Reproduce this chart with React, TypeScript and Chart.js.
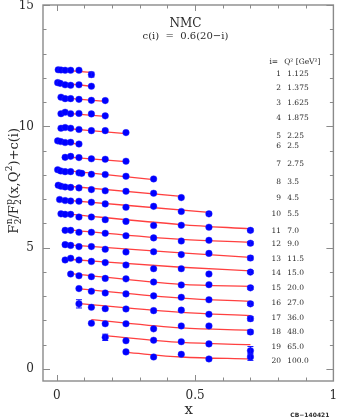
import React, { useEffect, useRef } from 'react';
import { Chart, registerables } from 'chart.js';

Chart.register(...registerables);

// ---- Data ----
const seriesIds = ['1','2','3','4','5','6','7','8','9','10','11','12','13','14','15','16','17','18','19','20'];
const q2Labels = ['1.125','1.375','1.625','1.875','2.25','2.5','2.75','3.5','4.5','5.5','7.0','9.0','11.5','15.0','20.0','27.0','36.0','48.0','65.0','100.0'];

const xs01 = [0.005, 0.015, 0.03, 0.05, 0.08, 0.125];
const ys01 = [12.33, 12.32, 12.31, 12.31, 12.31, 12.13];
const xs02 = [0.003, 0.012, 0.03, 0.05, 0.08, 0.125];
const ys02 = [11.80, 11.77, 11.71, 11.69, 11.71, 11.65];
const xs03 = [0.015, 0.03, 0.05, 0.08, 0.125, 0.175];
const ys03 = [11.20, 11.14, 11.14, 11.11, 11.07, 11.06];
const xs04 = [0.015, 0.03, 0.05, 0.08, 0.125, 0.175];
const ys04 = [10.52, 10.58, 10.52, 10.53, 10.51, 10.43];
const xs05 = [0.015, 0.03, 0.05, 0.08, 0.125, 0.175, 0.25];
const ys05 = [9.92, 9.95, 9.92, 9.87, 9.82, 9.82, 9.74];
const xs06 = [0.003, 0.014, 0.03, 0.05, 0.08];
const ys06 = [9.40, 9.37, 9.33, 9.34, 9.27];
const xs07 = [0.03, 0.05, 0.08, 0.125, 0.175, 0.25];
const ys07 = [8.72, 8.76, 8.71, 8.66, 8.64, 8.56];
const xs08 = [0.003, 0.014, 0.03, 0.05, 0.08, 0.09, 0.125, 0.175, 0.25, 0.35];
const ys08 = [8.21, 8.16, 8.13, 8.13, 8.08, 8.06, 8.02, 8.01, 7.94, 7.83];
const xs09 = [0.005, 0.015, 0.03, 0.05, 0.08, 0.125, 0.175, 0.25, 0.35, 0.45];
const ys09 = [7.57, 7.53, 7.50, 7.48, 7.46, 7.39, 7.34, 7.32, 7.24, 7.06];
const xs10 = [0.01, 0.03, 0.05, 0.08, 0.125, 0.175, 0.25, 0.35, 0.45, 0.55];
const ys10 = [6.98, 6.94, 6.92, 6.91, 6.87, 6.80, 6.66, 6.70, 6.49, 6.39];
const xs11 = [0.015, 0.03, 0.05, 0.08, 0.125, 0.175, 0.25, 0.35, 0.45, 0.55, 0.70];
const ys11 = [6.39, 6.37, 6.37, 6.26, 6.26, 6.15, 6.08, 5.91, 5.92, 5.84, 5.71];
const xs12 = [0.03, 0.05, 0.08, 0.125, 0.175, 0.25, 0.35, 0.45, 0.55, 0.70];
const ys12 = [5.71, 5.71, 5.63, 5.63, 5.59, 5.49, 5.40, 5.27, 5.30, 5.18];
const xs13 = [0.03, 0.05, 0.08, 0.125, 0.175, 0.25, 0.35, 0.45, 0.55, 0.70];
const ys13 = [5.12, 5.09, 5.04, 5.04, 4.93, 4.82, 4.83, 4.71, 4.76, 4.57];
const xs14 = [0.03, 0.05, 0.08, 0.125, 0.175, 0.25, 0.35, 0.45, 0.55, 0.70];
const ys14 = [4.49, 4.56, 4.49, 4.43, 4.38, 4.28, 4.13, 4.13, 3.91, 3.99];
const xs15 = [0.05, 0.08, 0.125, 0.175, 0.25, 0.35, 0.45, 0.55, 0.70];
const ys15 = [3.91, 3.84, 3.80, 3.73, 3.71, 3.58, 3.46, 3.47, 3.34];
const xs16 = [0.08, 0.125, 0.175, 0.25, 0.35, 0.45, 0.55, 0.70];
const ys16 = [3.31, 3.20, 3.13, 3.09, 3.01, 2.95, 2.85, 2.68];
const xs17 = [0.08, 0.125, 0.175, 0.25, 0.35, 0.45, 0.55, 0.70];
const ys17 = [2.68, 2.54, 2.48, 2.47, 2.40, 2.42, 2.25, 2.07];
const xs18 = [0.125, 0.175, 0.25, 0.35, 0.45, 0.55, 0.70];
const ys18 = [1.88, 1.86, 1.86, 1.65, 1.77, 1.77, 1.52];
const xs19 = [0.175, 0.25, 0.35, 0.45, 0.55, 0.70];
const ys19 = [1.30, 1.16, 1.18, 1.12, 1.03, 0.75];
const xs20 = [0.25, 0.35, 0.45, 0.55, 0.70];
const ys20 = [0.70, 0.49, 0.60, 0.41, 0.49];

// fit curves (red lines)
const fitX01 = [0.005, 0.125];        const fitY01 = [12.33, 12.22];
const fitX02 = [0.003, 0.125];        const fitY02 = [11.80, 11.65];
const fitX03 = [0.015, 0.175];        const fitY03 = [11.18, 11.03];
const fitX04 = [0.015, 0.175];        const fitY04 = [10.55, 10.41];
const fitX05 = [0.015, 0.25];         const fitY05 = [9.93, 9.70];
const fitX06 = [0.003, 0.08];         const fitY06 = [9.41, 9.25];
const fitX07 = [0.03, 0.25];          const fitY07 = [8.74, 8.54];
const fitX08 = [0.003, 0.35];         const fitY08 = [8.21, 7.80];
const fitX09 = [0.005, 0.45];         const fitY09 = [7.57, 7.11];
const fitX10 = [0.01, 0.55];          const fitY10 = [6.98, 6.45];
const fitX11 = [0.015, 0.45, 0.70];   const fitY11 = [6.41, 5.95, 5.77];
const fitX12 = [0.03, 0.45, 0.70];    const fitY12 = [5.74, 5.34, 5.22];
const fitX13 = [0.03, 0.45, 0.70];    const fitY13 = [5.12, 4.78, 4.60];
const fitX14 = [0.03, 0.45, 0.70];    const fitY14 = [4.53, 4.19, 4.04];
const fitX15 = [0.05, 0.45, 0.70];    const fitY15 = [3.93, 3.48, 3.40];
const fitX16 = [0.08, 0.45, 0.70];    const fitY16 = [3.30, 2.92, 2.78];
const fitX17 = [0.08, 0.45, 0.70];    const fitY17 = [2.69, 2.33, 2.19];
const fitX18 = [0.125, 0.45, 0.70];   const fitY18 = [2.03, 1.69, 1.59];
const fitX19 = [0.175, 0.45, 0.70];   const fitY19 = [1.37, 1.09, 1.00];
const fitX20 = [0.25, 0.45, 0.70];    const fitY20 = [0.68, 0.49, 0.41];

// visible error bars: [series number, point index, half-width]
const errorBars: number[][] = [
  [1, 5, 0.10], [10, 9, 0.06], [11, 10, 0.06], [12, 9, 0.07], [13, 9, 0.08],
  [14, 9, 0.06], [15, 8, 0.06], [16, 7, 0.07], [17, 0, 0.17], [17, 7, 0.09],
  [18, 6, 0.08], [19, 0, 0.13], [19, 5, 0.17], [20, 4, 0.14],
];

const xMajorTicks = [0, 0.5, 1];
const xMinorTicks = [0.1, 0.2, 0.3, 0.4, 0.6, 0.7, 0.8, 0.9];
const yMajorTicks = [0, 5, 10, 15];
const yMinorTicks = [1, 2, 3, 4, 6, 7, 8, 9, 11, 12, 13, 14];
const xTickLabels = ['0', '0.5', '1'];
const yTickLabels = ['0', '5', '10', '15'];

const seriesX = [xs01, xs02, xs03, xs04, xs05, xs06, xs07, xs08, xs09, xs10, xs11, xs12, xs13, xs14, xs15, xs16, xs17, xs18, xs19, xs20];
const seriesY = [ys01, ys02, ys03, ys04, ys05, ys06, ys07, ys08, ys09, ys10, ys11, ys12, ys13, ys14, ys15, ys16, ys17, ys18, ys19, ys20];
const fitsX = [fitX01, fitX02, fitX03, fitX04, fitX05, fitX06, fitX07, fitX08, fitX09, fitX10, fitX11, fitX12, fitX13, fitX14, fitX15, fitX16, fitX17, fitX18, fitX19, fitX20];
const fitsY = [fitY01, fitY02, fitY03, fitY04, fitY05, fitY06, fitY07, fitY08, fitY09, fitY10, fitY11, fitY12, fitY13, fitY14, fitY15, fitY16, fitY17, fitY18, fitY19, fitY20];

const SERIF = '"DejaVu Serif", serif';
const FRAME = '#8a8a8a';
const TEXT = '#2a2a2a';

function drawYTitle(ctx: CanvasRenderingContext2D, cx: number, cy: number) {
  const big = `13px ${SERIF}`;
  const small = `9px ${SERIF}`;
  const segs = [
    { t: 'F', sup: 'n', sub: '2' },
    { t: '/' },
    { t: 'F', sup: 'p', sub: '2' },
    { t: '(x,Q', sup: '2' },
    { t: ')+c(i)' },
  ] as { t: string; sup?: string; sub?: string }[];
  const widths = segs.map((s) => {
    ctx.font = big;
    const w = ctx.measureText(s.t).width;
    ctx.font = small;
    const ws = Math.max(s.sup ? ctx.measureText(s.sup).width : 0, s.sub ? ctx.measureText(s.sub).width : 0);
    return w + ws + (ws ? 0.5 : 0);
  });
  const total = widths.reduce((a, b) => a + b, 0);
  ctx.save();
  ctx.translate(cx, cy);
  ctx.rotate(-Math.PI / 2);
  ctx.fillStyle = TEXT;
  ctx.textBaseline = 'alphabetic';
  ctx.textAlign = 'left';
  let x = -total / 2;
  const base = 4.5;
  segs.forEach((s, i) => {
    ctx.font = big;
    ctx.fillText(s.t, x, base);
    const w = ctx.measureText(s.t).width;
    ctx.font = small;
    if (s.sup) ctx.fillText(s.sup, x + w + 0.5, base - 6);
    if (s.sub) ctx.fillText(s.sub, x + w + 0.5, base + 3);
    x += widths[i];
  });
  ctx.restore();
}

const decorPlugin = {
  id: 'decor',
  afterDatasetsDraw(chart: any) {
    const ctx: CanvasRenderingContext2D = chart.ctx;
    const xs = chart.scales.x;
    const ys = chart.scales.y;
    const a = chart.chartArea;

    // error bars
    ctx.save();
    ctx.strokeStyle = '#1010ff';
    ctx.lineWidth = 1;
    errorBars.forEach(([s, idx, e]) => {
      const px = xs.getPixelForValue(seriesX[s - 1][idx]);
      const v = seriesY[s - 1][idx];
      const top = ys.getPixelForValue(v + e);
      const bot = ys.getPixelForValue(v - e);
      ctx.beginPath();
      ctx.moveTo(px, top); ctx.lineTo(px, bot);
      ctx.moveTo(px - 3, top); ctx.lineTo(px + 3, top);
      ctx.moveTo(px - 3, bot); ctx.lineTo(px + 3, bot);
      ctx.stroke();
    });
    ctx.restore();
  },
  afterDraw(chart: any) {
    const ctx: CanvasRenderingContext2D = chart.ctx;
    const xs = chart.scales.x;
    const ys = chart.scales.y;
    const a = chart.chartArea;
    ctx.save();
    // frame
    ctx.strokeStyle = FRAME;
    ctx.lineWidth = 1.4;
    ctx.strokeRect(a.left, a.top, a.right - a.left, a.bottom - a.top);
    ctx.lineWidth = 1;
    ctx.beginPath();
    const xt = (v: number, len: number) => {
      const p = Math.round(xs.getPixelForValue(v)) + 0.5;
      ctx.moveTo(p, a.bottom); ctx.lineTo(p, a.bottom - len);
      ctx.moveTo(p, a.top); ctx.lineTo(p, a.top + len);
    };
    const yt = (v: number, len: number) => {
      const p = Math.round(ys.getPixelForValue(v)) + 0.5;
      ctx.moveTo(a.left, p); ctx.lineTo(a.left + len, p);
      ctx.moveTo(a.right, p); ctx.lineTo(a.right - len, p);
    };
    xMajorTicks.forEach((v) => xt(v, 6));
    xMinorTicks.forEach((v) => xt(v, 3.5));
    yMajorTicks.forEach((v) => yt(v, 7));
    yMinorTicks.forEach((v) => yt(v, 3.5));
    ctx.stroke();

    // tick labels
    ctx.fillStyle = TEXT;
    ctx.font = `12px ${SERIF}`;
    ctx.textBaseline = 'middle';
    ctx.textAlign = 'center';
    xMajorTicks.forEach((v, i) => ctx.fillText(xTickLabels[i], xs.getPixelForValue(v), a.bottom + 14.5));
    ctx.textAlign = 'right';
    yMajorTicks.forEach((v, i) => ctx.fillText(yTickLabels[i], a.left - 9, ys.getPixelForValue(v) + 0.5));

    // x title
    ctx.textAlign = 'center';
    ctx.font = `15px ${SERIF}`;
    ctx.fillText('x', xs.getPixelForValue(0.477), a.bottom + 29);

    // y title
    drawYTitle(ctx, 13.5, ys.getPixelForValue(7.75));

    // annotations
    ctx.font = `12px ${SERIF}`;
    ctx.textAlign = 'center';
    ctx.fillText('NMC', xs.getPixelForValue(0.465), ys.getPixelForValue(14.22));
    ctx.font = `10px ${SERIF}`;
    ctx.fillText('c(i)  =  0.6(20\u2212i)', xs.getPixelForValue(0.465), ys.getPixelForValue(13.72));

    // legend table
    ctx.font = `7.5px ${SERIF}`;
    const xi = xs.getPixelForValue(0.811);
    const xq = xs.getPixelForValue(0.833);
    const yHead = ys.getPixelForValue(12.63);
    ctx.textAlign = 'right';
    ctx.fillText('i=', xi - 3, yHead);
    ctx.textAlign = 'left';
    ctx.fillText('Q\u00B2 [GeV\u00B2]', xq - 3, yHead);
    seriesIds.forEach((id, k) => {
      const fy = fitsY[k];
      const py = ys.getPixelForValue(fy[fy.length - 1]) + 2;
      ctx.textAlign = 'right';
      ctx.fillText(id, xi, py);
      ctx.textAlign = 'left';
      ctx.fillText(q2Labels[k], xq, py);
    });

    // catalogue tag
    ctx.font = `bold 6px "DejaVu Sans", sans-serif`;
    ctx.textAlign = 'center';
    ctx.fillText('CB\u2212140421', xs.getPixelForValue(0.915), a.bottom + 34);
    ctx.restore();
  },
};

export default function App() {
  const ref = useRef<HTMLCanvasElement>(null);
  useEffect(() => {
    document.body.style.margin = '0';
    const fitSets = fitsX.map((fx, k) => ({
      type: 'scatter' as const,
      label: `fit ${seriesIds[k]}`,
      data: fx.map((x, j) => ({ x, y: fitsY[k][j] })),
      showLine: true,
      borderColor: 'rgba(255,30,30,0.85)',
      borderWidth: 1.3,
      pointRadius: 0,
      cubicInterpolationMode: 'monotone' as const,
      order: 2,
    }));
    const pointSets = seriesX.map((sx, k) => ({
      type: 'scatter' as const,
      label: `i=${seriesIds[k]} Q2=${q2Labels[k]}`,
      data: sx.map((x, j) => ({ x, y: seriesY[k][j] })),
      showLine: false,
      pointRadius: 3.3,
      pointBackgroundColor: '#0000ff',
      pointBorderColor: 'rgba(40,40,255,0.7)',
      pointBorderWidth: 0.6,
      order: 1,
    }));
    const chart = new Chart(ref.current as HTMLCanvasElement, {
      type: 'scatter',
      data: { datasets: [...fitSets, ...pointSets] as any },
      options: {
        animation: false,
        responsive: false,
        devicePixelRatio: 1,
        layout: { padding: { left: 43, top: 5, right: 2, bottom: 39 } },
        plugins: { legend: { display: false }, tooltip: { enabled: false } },
        scales: {
          x: { type: 'linear', min: -0.05, max: 1.0, display: false },
          y: { type: 'linear', min: -0.5, max: 15, display: false },
        },
      },
      plugins: [decorPlugin],
    });
    return () => chart.destroy();
  }, []);
  return (
    <div style={{ width: 338, height: 420 }}>
      <canvas ref={ref} width={338} height={420} style={{ display: 'block' }} />
    </div>
  );
}
